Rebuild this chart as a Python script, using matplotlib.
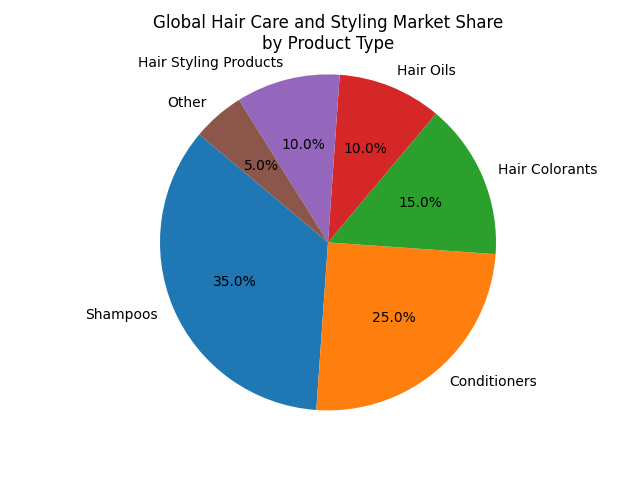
import matplotlib
matplotlib.use("Agg")
import matplotlib.pyplot as plt

products = ["Shampoos", "Conditioners", "Hair Colorants", "Hair Oils",
            "Hair Styling Products", "Other"]
shares = [35, 25, 15, 10, 10, 5]

fig, ax = plt.subplots(figsize=(6.4, 4.8), dpi=100)
ax.pie(shares, labels=products, autopct="%1.1f%%", startangle=140)
ax.set_title("Global Hair Care and Styling Market Share\nby Product Type")
ax.axis("equal")
fig.savefig("out.png", dpi=100)
